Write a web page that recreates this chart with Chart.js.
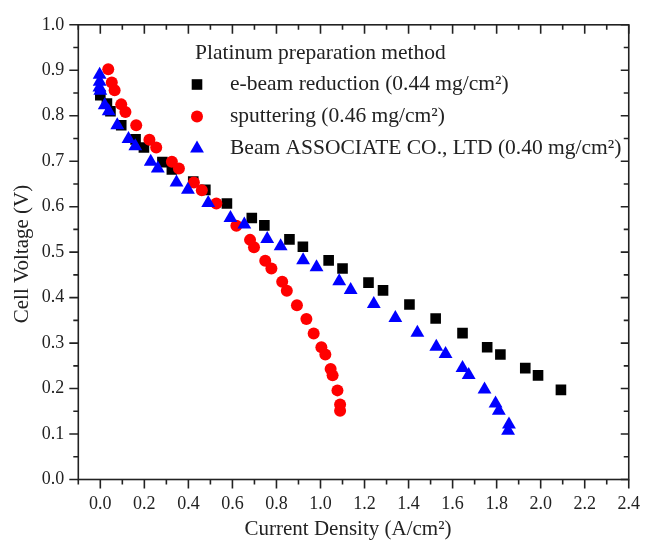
<!doctype html>
<html lang="en">
<head>
  <meta charset="utf-8" />
  <script src="https://cdn.jsdelivr.net/npm/chart.js@4/dist/chart.umd.min.js"></script>
  <style>
    html, body { margin: 0; padding: 0; background: #ffffff; }
    canvas { display: block; }
  </style>
</head>
<body>
  <canvas id="chart" width="654" height="541"></canvas>
  <script>
    // values (A/cm2, V)
    const eBeamX = [0.00, 0.03, 0.046, 0.095, 0.16, 0.198, 0.282, 0.325, 0.422, 0.477, 0.575, 0.688, 0.745, 0.859, 0.92, 1.037, 1.10, 1.218, 1.284, 1.404, 1.523, 1.645, 1.757, 1.817, 1.93, 1.988, 2.092];
    const eBeamY = [0.845, 0.827, 0.81, 0.779, 0.748, 0.730, 0.698, 0.682, 0.655, 0.637, 0.607, 0.575, 0.559, 0.528, 0.512, 0.482, 0.464, 0.433, 0.416, 0.385, 0.354, 0.322, 0.291, 0.275, 0.245, 0.229, 0.197];

    const sputterX = [0.036, 0.052, 0.065, 0.095, 0.114, 0.163, 0.223, 0.254, 0.325, 0.357, 0.425, 0.461, 0.527, 0.618, 0.68, 0.698, 0.749, 0.777, 0.826, 0.847, 0.893, 0.936, 0.969, 1.004, 1.022, 1.046, 1.055, 1.077, 1.089, 1.089];
    const sputterY = [0.902, 0.873, 0.856, 0.825, 0.808, 0.779, 0.747, 0.730, 0.699, 0.684, 0.653, 0.636, 0.607, 0.558, 0.527, 0.511, 0.481, 0.464, 0.435, 0.415, 0.383, 0.353, 0.321, 0.291, 0.275, 0.243, 0.229, 0.196, 0.165, 0.151];

    const assocX = [-0.003, -0.003, -0.004, 0.0, 0.02, 0.038, 0.077, 0.128, 0.159, 0.229, 0.261, 0.346, 0.398, 0.49, 0.591, 0.654, 0.758, 0.819, 0.921, 0.982, 1.085, 1.137, 1.242, 1.34, 1.44, 1.526, 1.568, 1.645, 1.673, 1.745, 1.795, 1.81, 1.856, 1.852];
    const assocY = [0.89, 0.875, 0.862, 0.855, 0.823, 0.81, 0.779, 0.749, 0.733, 0.699, 0.684, 0.653, 0.637, 0.608, 0.575, 0.561, 0.529, 0.513, 0.482, 0.467, 0.436, 0.417, 0.386, 0.355, 0.323, 0.292, 0.276, 0.245, 0.23, 0.198, 0.167, 0.151, 0.121, 0.107];

    const seriesLabels = [
      'e-beam reduction (0.44 mg/cm\u00B2)',
      'sputtering (0.46 mg/cm\u00B2)',
      'Beam ASSOCIATE CO., LTD (0.40 mg/cm\u00B2)',
    ];
    const legendTitle = 'Platinum preparation method';
    const xTicks = [0.0, 0.2, 0.4, 0.6, 0.8, 1.0, 1.2, 1.4, 1.6, 1.8, 2.0, 2.2, 2.4];
    const yTicks = [0.0, 0.1, 0.2, 0.3, 0.4, 0.5, 0.6, 0.7, 0.8, 0.9, 1.0];
    const xTitle = 'Current Density (A/cm\u00B2)';
    const yTitle = 'Cell Voltage (V)';

    const FONT = '"Liberation Serif", "Times New Roman", serif';
    const INK = '#222222';

    const toPoints = (xs, ys) => xs.map((x, i) => ({ x, y: ys[i] }));

    // same geometry as Chart.js point styles, for the legend swatches
    function drawMarker(ctx, style, r, x, y) {
      ctx.beginPath();
      if (style === 'rect') {
        const s = Math.SQRT1_2 * r;
        ctx.rect(x - s, y - s, 2 * s, 2 * s);
      } else if (style === 'triangle') {
        ctx.moveTo(x, y - r);
        ctx.lineTo(x + Math.sin(Math.PI / 3) * r, y + r / 2);
        ctx.lineTo(x - Math.sin(Math.PI / 3) * r, y + r / 2);
        ctx.closePath();
      } else {
        ctx.arc(x, y, r, 0, Math.PI * 2);
      }
      ctx.fill();
    }

    // frame with Origin-style ticks: outward on bottom/left, inward on top/right
    const framePlugin = {
      id: 'frame',
      afterDraw(chart) {
        const { ctx, chartArea: a, scales: { x, y } } = chart;
        ctx.save();
        ctx.strokeStyle = INK;
        ctx.lineWidth = 1.6;
        ctx.strokeRect(a.left, a.top, a.right - a.left, a.bottom - a.top);

        ctx.beginPath();
        for (let i = 0; i < xTicks.length; i++) {
          const major = xTicks[i];
          const px = x.getPixelForValue(major);
          ctx.moveTo(px, a.bottom); ctx.lineTo(px, a.bottom + 9);
          ctx.moveTo(px, a.top); ctx.lineTo(px, a.top + 9);
          const minor = major - 0.1;
          if (minor >= x.min - 1e-9) {
            const pm = x.getPixelForValue(minor);
            ctx.moveTo(pm, a.bottom); ctx.lineTo(pm, a.bottom + 5);
            ctx.moveTo(pm, a.top); ctx.lineTo(pm, a.top + 5);
          }
        }
        for (let i = 0; i < yTicks.length; i++) {
          const major = yTicks[i];
          const py = y.getPixelForValue(major);
          ctx.moveTo(a.left, py); ctx.lineTo(a.left - 9, py);
          ctx.moveTo(a.right, py); ctx.lineTo(a.right - 8, py);
          if (i > 0) {
            const pm = y.getPixelForValue(major - 0.05);
            ctx.moveTo(a.left, pm); ctx.lineTo(a.left - 5, pm);
            ctx.moveTo(a.right, pm); ctx.lineTo(a.right - 5, pm);
          }
        }
        ctx.stroke();

        // axis titles
        ctx.fillStyle = INK;
        ctx.font = '21px ' + FONT;
        ctx.textAlign = 'center';
        ctx.textBaseline = 'middle';
        ctx.fillText(xTitle, 348, 529);
        ctx.translate(22, 254);
        ctx.rotate(-Math.PI / 2);
        ctx.fillText(yTitle, 0, 0);
        ctx.restore();

        // legend inside the plot
        ctx.save();
        ctx.font = '21.5px ' + FONT;
        ctx.textAlign = 'left';
        ctx.textBaseline = 'middle';
        ctx.fillStyle = INK;
        ctx.fillText(legendTitle, 195, 53);
        const rows = [84.5, 116.5, 148.5];
        chart.data.datasets.forEach((ds, i) => {
          ctx.fillStyle = ds.backgroundColor;
          drawMarker(ctx, ds.pointStyle, ds.pointRadius, 197, rows[i]);
          ctx.fillStyle = INK;
          ctx.fillText(ds.label, 230, rows[i]);
        });
        ctx.restore();
      },
    };

    new Chart(document.getElementById('chart'), {
      type: 'scatter',
      plugins: [framePlugin],
      data: {
        datasets: [
          {
            label: seriesLabels[0],
            data: toPoints(eBeamX, eBeamY),
            order: 3,
            pointStyle: 'rect',
            pointRadius: 7.5,
            backgroundColor: '#000000',
            borderColor: '#000000',
            borderWidth: 0,
          },
          {
            label: seriesLabels[1],
            data: toPoints(sputterX, sputterY),
            order: 2,
            pointStyle: 'circle',
            pointRadius: 6,
            backgroundColor: '#ff0000',
            borderColor: '#ff0000',
            borderWidth: 0,
          },
          {
            label: seriesLabels[2],
            data: toPoints(assocX, assocY),
            order: 1,
            pointStyle: 'triangle',
            pointRadius: 8,
            backgroundColor: '#0000ff',
            borderColor: '#0000ff',
            borderWidth: 0,
          },
        ],
      },
      options: {
        responsive: false,
        animation: false,
        layout: { padding: { left: 0, right: 14, top: 22.5, bottom: 0 } },
        plugins: {
          legend: { display: false },
          tooltip: { enabled: false },
        },
        scales: {
          x: {
            type: 'linear',
            min: -0.1,
            max: 2.4,
            grid: { display: false, drawTicks: false },
            border: { display: false },
            afterBuildTicks: s => { s.ticks = xTicks.map(v => ({ value: v })); },
            afterFit: s => { s.height = 61.5; },
            ticks: {
              color: INK,
              padding: 14,
              maxRotation: 0,
              autoSkip: false,
              font: { family: FONT, size: 18 },
              callback: v => Number(v).toFixed(1),
            },
          },
          y: {
            type: 'linear',
            min: 0,
            max: 1.0,
            grid: { display: false, drawTicks: false },
            border: { display: false },
            afterBuildTicks: s => { s.ticks = yTicks.map(v => ({ value: v })); },
            afterFit: s => { s.width = 78.3; },
            ticks: {
              color: INK,
              padding: 14,
              autoSkip: false,
              font: { family: FONT, size: 18 },
              callback: v => Number(v).toFixed(1),
            },
          },
        },
      },
    });
  </script>
</body>
</html>
